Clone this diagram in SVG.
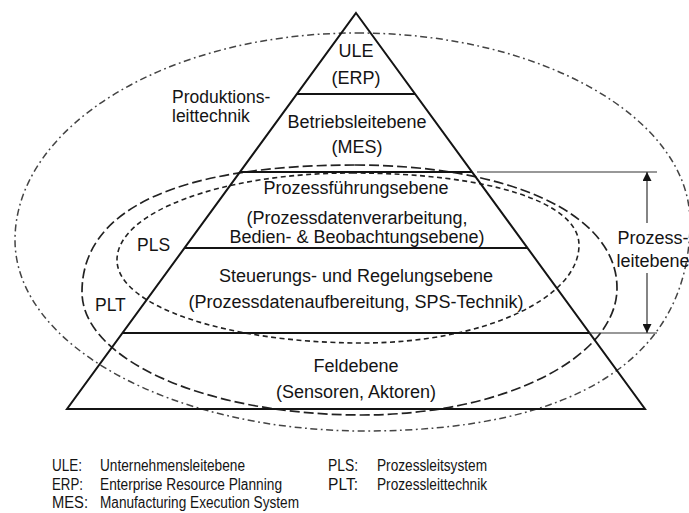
<svg xmlns="http://www.w3.org/2000/svg" width="689" height="513" viewBox="0 0 689 513">
  <style>
    .txt { font-family: "Liberation Sans", Arial, sans-serif; font-size: 18px; fill: #141414; }
    .mid { text-anchor: middle; }
    .lbl { font-size: 17.5px; }
    .leg { font-size: 16px; }
    .edge { fill: none; stroke: #141414; stroke-width: 2; }
    .thin { fill: none; stroke: #333; stroke-width: 1.2; }
    .dashdot { fill: none; stroke: #444; stroke-width: 1.5; stroke-dasharray: 7 3.5 1.8 3.5; }
    .longdash { fill: none; stroke: #222; stroke-width: 1.7; stroke-dasharray: 10 4; }
    .shortdash { fill: none; stroke: #222; stroke-width: 1.6; stroke-dasharray: 5 3.5; }
  </style>
  <defs>
    <marker id="head" viewBox="0 0 10 10" refX="10" refY="5" markerWidth="11" markerHeight="9" markerUnits="userSpaceOnUse" orient="auto">
      <path d="M0,0 L10,5 L0,10 Z" fill="#141414"/>
    </marker>
  </defs>
  <rect width="689" height="513" fill="#ffffff"/>

  <!-- scope outlines -->
  <g id="scope-produktionsleittechnik">
    <path class="dashdot" d="M357,33 C541,33 690,118 690,222 C690,358 576,431 365,431 C172,431 15,345.5 15,240 C15,126 168,33 357,33 Z"/>
    <text class="txt lbl" x="172" y="103">Produktions-</text>
    <text class="txt lbl" x="172" y="122">leittechnik</text>
  </g>
  <g id="scope-plt">
    <path class="longdash" d="M355,165 C505,165 617,212 617,288 C617,358 503,415 362,415 C207,415 82,360 82,292 C82,209 178,165 355,165 Z"/>
    <text class="txt lbl" x="95" y="311">PLT</text>
  </g>
  <g id="scope-pls">
    <path class="shortdash" d="M352,173 C488,173 579,202 579,245 C579,299 482,343 362,343 C227,343 117,306 117,260 C117,212 222,173 352,173 Z"/>
    <text class="txt lbl" x="137" y="251">PLS</text>
  </g>

  <!-- pyramid frame and level boundaries -->
  <g id="pyramid">
    <polygon class="edge" points="356,13 645,409 67,409" stroke-linejoin="miter"/>
    <line class="edge" x1="297" y1="94" x2="415" y2="94"/>
    <line class="edge" x1="240" y1="172" x2="472" y2="172"/>
    <line class="edge" x1="185" y1="248" x2="527" y2="248"/>
    <line class="edge" x1="123" y1="333" x2="589" y2="333"/>
  </g>

  <g id="level-ule">
    <text class="txt mid" x="356" y="57">ULE</text>
    <text class="txt mid" x="356" y="84">(ERP)</text>
  </g>
  <g id="level-betriebsleitebene">
    <text class="txt mid" x="357" y="128">Betriebsleitebene</text>
    <text class="txt mid" x="357" y="153">(MES)</text>
  </g>
  <g id="level-prozessfuehrung">
    <text class="txt mid" x="356" y="194">Prozessführungsebene</text>
    <text class="txt mid" x="357" y="224">(Prozessdatenverarbeitung,</text>
    <text class="txt mid" x="357" y="243">Bedien- &amp; Beobachtungsebene)</text>
  </g>
  <g id="level-steuerung">
    <text class="txt mid" x="356" y="282">Steuerungs- und Regelungsebene</text>
    <text class="txt mid" x="356" y="308">(Prozessdatenaufbereitung, SPS-Technik)</text>
  </g>
  <g id="level-feldebene">
    <text class="txt mid" x="356" y="372">Feldebene</text>
    <text class="txt mid" x="356" y="398">(Sensoren, Aktoren)</text>
  </g>

  <!-- dimension for the process control range -->
  <g id="connectors">
    <line class="thin" x1="477" y1="172" x2="657" y2="172"/>
    <line class="thin" x1="589" y1="333" x2="657" y2="333"/>
    <line class="thin" x1="647" y1="223" x2="647" y2="172" marker-end="url(#head)"/>
    <line class="thin" x1="647" y1="273" x2="647" y2="333" marker-end="url(#head)"/>
  </g>
  <g id="label-prozessleitebene">
    <text class="txt mid" x="653" y="244">Prozess-</text>
    <text class="txt mid" x="653" y="267">leitebene</text>
  </g>

  <!-- abbreviations -->
  <g id="legend">
    <text class="txt leg" x="52" y="471" textLength="30" lengthAdjust="spacingAndGlyphs">ULE:</text>
    <text class="txt leg" x="100" y="471" textLength="145" lengthAdjust="spacingAndGlyphs">Unternehmensleitebene</text>
    <text class="txt leg" x="52" y="489.5" textLength="31" lengthAdjust="spacingAndGlyphs">ERP:</text>
    <text class="txt leg" x="100" y="489.5" textLength="182" lengthAdjust="spacingAndGlyphs">Enterprise Resource Planning</text>
    <text class="txt leg" x="52" y="508" textLength="36" lengthAdjust="spacingAndGlyphs">MES:</text>
    <text class="txt leg" x="100" y="508" textLength="199" lengthAdjust="spacingAndGlyphs">Manufacturing Execution System</text>
    <text class="txt leg" x="328" y="471" textLength="30" lengthAdjust="spacingAndGlyphs">PLS:</text>
    <text class="txt leg" x="377" y="471" textLength="110" lengthAdjust="spacingAndGlyphs">Prozessleitsystem</text>
    <text class="txt leg" x="328" y="489.5" textLength="30" lengthAdjust="spacingAndGlyphs">PLT:</text>
    <text class="txt leg" x="377" y="489.5" textLength="110" lengthAdjust="spacingAndGlyphs">Prozessleittechnik</text>
  </g>
</svg>
